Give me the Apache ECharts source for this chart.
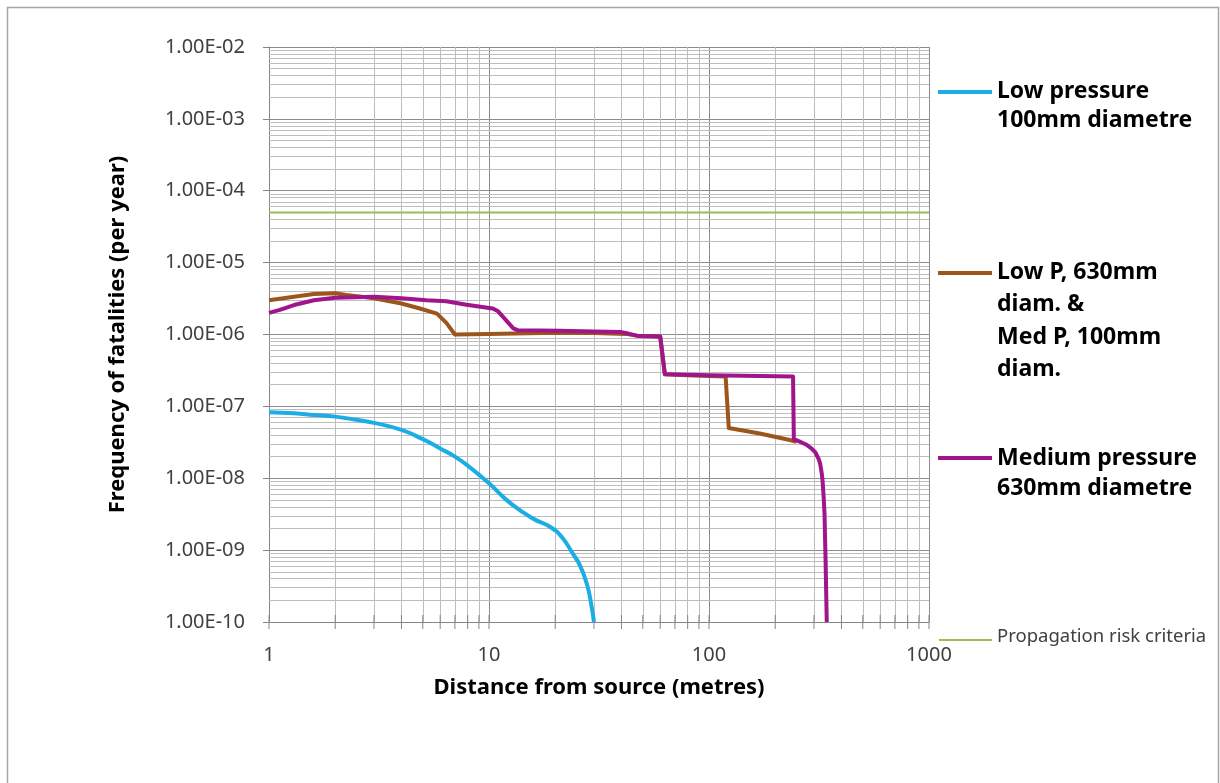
<!DOCTYPE html>
<html><head><meta charset="utf-8">
<script src="https://cdn.jsdelivr.net/npm/echarts@6/dist/echarts.min.js"></script>
<style>html,body{margin:0;padding:0;background:#fff}#c{width:1220px;height:783px}</style>
</head><body><div id="c"></div>
<script>
// ---- tick labels ----
const xTickLabels = ['1', '10', '100', '1000'];
const yTickLabels = ['1.00E-10', '1.00E-09', '1.00E-08', '1.00E-07', '1.00E-06', '1.00E-05', '1.00E-04', '1.00E-03', '1.00E-02'];

// ---- series names ----
const seriesNames = [
  'Low pressure\n100mm diametre',
  'Low P, 630mm\ndiam. &\nMed P, 100mm\ndiam.',
  'Medium pressure\n630mm diametre',
  'Propagation risk criteria'
];

// ---- series values (distance m, frequency per year) ----
const lowPressureX = [1, 1.3, 1.6, 2, 2.5, 3, 4, 5, 6, 7, 8, 10, 12, 14, 16, 19, 21.5, 24, 26, 28, 29.2, 30];
const lowPressureY = [8.3e-8, 8.0e-8, 7.6e-8, 7.2e-8, 6.5e-8, 5.9e-8, 4.7e-8, 3.5e-8, 2.6e-8, 2.0e-8, 1.5e-8, 8.5e-9, 5.0e-9, 3.5e-9, 2.7e-9, 2.1e-9, 1.5e-9, 9.0e-10, 6.0e-10, 3.2e-10, 1.7e-10, 1.0e-10];

const lowPMedPX = [1, 1.3, 1.6, 2, 2.25, 3, 4, 4.85, 5.8, 6.4, 7, 10, 15, 21, 30, 42, 48, 60, 63, 80, 100, 119, 123, 170, 233, 250];
const lowPMedPY = [3.0e-6, 3.35e-6, 3.65e-6, 3.75e-6, 3.55e-6, 3.2e-6, 2.7e-6, 2.3e-6, 1.95e-6, 1.45e-6, 1.0e-6, 1.02e-6, 1.04e-6, 1.06e-6, 1.05e-6, 1.02e-6, 9.5e-7, 9.4e-7, 2.8e-7, 2.7e-7, 2.65e-7, 2.6e-7, 5.0e-8, 4.2e-8, 3.4e-8, 3.2e-8];

const mediumX = [1, 1.12, 1.3, 1.6, 2, 3, 4, 5.2, 6.4, 7.9, 10.4, 11, 12.9, 13.5, 21, 30, 40, 43, 48, 60, 63, 100, 170, 241, 243, 260, 276, 292, 304, 314, 320, 325, 328, 332, 335, 339, 341, 343];
const mediumY = [2.0e-6, 2.2e-6, 2.57e-6, 3.0e-6, 3.25e-6, 3.35e-6, 3.2e-6, 3.0e-6, 2.9e-6, 2.6e-6, 2.3e-6, 2.1e-6, 1.22e-6, 1.15e-6, 1.13e-6, 1.1e-6, 1.08e-6, 1.03e-6, 9.5e-7, 9.4e-7, 2.8e-7, 2.7e-7, 2.65e-7, 2.6e-7, 3.5e-8, 3.2e-8, 2.95e-8, 2.6e-8, 2.3e-8, 1.9e-8, 1.6e-8, 1.2e-8, 9.5e-9, 5.5e-9, 3.2e-9, 6.6e-10, 2.5e-10, 1.0e-10];

const criteriaX = [1, 1000];
const criteriaY = [5e-5, 5e-5];

const colors = ['#1CADE4', '#9C561C', '#A0148C', '#9BBB59'];

const zip = (xs, ys) => xs.map((x, i) => [x, ys[i]]);

// minor grid positions (log decades 2..9)
const xMinor = [];
for (let e = 0; e <= 2; e++) for (let k = 2; k <= 9; k++) xMinor.push(k * Math.pow(10, e));
const yMinor = [];
for (let e = -10; e <= -3; e++) for (let k = 2; k <= 9; k++) yMinor.push(k * Math.pow(10, e));
const xTicksAll = [1, 10, 100, 1000].concat(xMinor);

const FONT = 'Noto Sans';
const chart = echarts.init(document.getElementById('c'), null, {renderer: 'canvas'});

const gridLineData = xMinor.map(v => [{coord: [v, 1e-10]}, {coord: [v, 1e-2]}])
  .concat(yMinor.map(v => [{coord: [1, v]}, {coord: [1000, v]}]));

const option = {
  animation: false,
  backgroundColor: '#ffffff',
  grid: {left: 269, top: 47, width: 660, height: 575, containLabel: false},
  xAxis: {
    type: 'log', logBase: 10, min: 1, max: 1000, splitNumber: 3,
    axisLine: {show: true, lineStyle: {color: '#868686', width: 1}},
    axisTick: {show: false},
    axisLabel: {
      formatter: v => xTickLabels[Math.round(Math.log10(v))],
      fontSize: 20, fontFamily: FONT, color: '#404040', margin: 23
    },
    splitLine: {show: true, lineStyle: {color: '#8c8c8c', width: 1}},
    name: 'Distance from source (metres)', nameLocation: 'middle', nameGap: 55,
    nameTextStyle: {fontSize: 22, fontWeight: 'bold', fontFamily: FONT, color: '#000'}
  },
  yAxis: {
    type: 'log', logBase: 10, min: 1e-10, max: 1e-2, splitNumber: 8,
    axisLine: {show: true, lineStyle: {color: '#868686', width: 1}},
    axisTick: {show: true, length: 6, lineStyle: {color: '#868686'}},
    axisLabel: {
      formatter: v => yTickLabels[Math.round(Math.log10(v)) + 10],
      fontSize: 20, fontFamily: FONT, color: '#404040', margin: 24
    },
    splitLine: {show: true, lineStyle: {color: '#8c8c8c', width: 1}},
    name: 'Frequency of fatalities (per year)', nameLocation: 'middle', nameGap: 140,
    nameTextStyle: {fontSize: 22, fontWeight: 'bold', fontFamily: FONT, color: '#000'}
  },
  legend: {show: false},
  series: [
    {
      name: 'minor grid', type: 'line', z: 1, silent: true,
      data: [[1, 1e-10]], showSymbol: false, lineStyle: {width: 0},
      markLine: {
        z: 1, silent: true, symbol: ['none', 'none'], label: {show: false}, animation: false,
        lineStyle: {color: '#bdbdbd', width: 1, type: 'solid'},
        emphasis: {disabled: true},
        data: gridLineData
      }
    },
    {
      name: 'x ticks', type: 'custom', z: 3, silent: true, clip: false,
      data: xTicksAll.map(v => [v, 1e-10]),
      encode: {x: 0, y: 1},
      renderItem: function (params, api) {
        const p = api.coord([api.value(0), api.value(1)]);
        return {type: 'line', shape: {x1: p[0], y1: p[1] - 7, x2: p[0], y2: p[1] + 7},
          style: {stroke: '#868686', lineWidth: 1}};
      }
    },
    {name: seriesNames[3], type: 'line', z: 10, data: zip(criteriaX, criteriaY), showSymbol: false,
      lineStyle: {color: colors[3], width: 2}, itemStyle: {color: colors[3]}},
    {name: seriesNames[0], type: 'line', z: 10, data: zip(lowPressureX, lowPressureY), showSymbol: false,
      smooth: 0.5,
      lineStyle: {color: colors[0], width: 4}, itemStyle: {color: colors[0]}},
    {name: seriesNames[1], type: 'line', z: 10, data: zip(lowPMedPX, lowPMedPY), showSymbol: false,
      lineStyle: {color: colors[1], width: 4, join: 'round'}, itemStyle: {color: colors[1]}},
    {name: seriesNames[2], type: 'line', z: 11, data: zip(mediumX, mediumY), showSymbol: false,
      lineStyle: {color: colors[2], width: 4, join: 'round'}, itemStyle: {color: colors[2]}}
  ],
  graphic: [
    {type: 'rect', silent: true, z: -1, shape: {x: 7.5, y: 7.5, width: 1211, height: 800},
      style: {fill: 'none', stroke: '#a6a6a6', lineWidth: 1.5}},
    // legend
    {type: 'line', shape: {x1: 938, y1: 92, x2: 992, y2: 92}, style: {stroke: colors[0], lineWidth: 4}},
    {type: 'text', left: 997, top: 77, style: {text: seriesNames[0], font: 'bold 23px "Noto Sans"', fill: '#000', lineHeight: 29}},
    {type: 'line', shape: {x1: 938, y1: 273, x2: 992, y2: 273}, style: {stroke: colors[1], lineWidth: 4}},
    {type: 'text', left: 997, top: 256, style: {text: seriesNames[1], font: 'bold 23px "Noto Sans"', fill: '#000', lineHeight: 32.5}},
    {type: 'line', shape: {x1: 938, y1: 458, x2: 992, y2: 458}, style: {stroke: colors[2], lineWidth: 4}},
    {type: 'text', left: 997, top: 443, style: {text: seriesNames[2], font: 'bold 23px "Noto Sans"', fill: '#000', lineHeight: 30}},
    {type: 'line', shape: {x1: 939, y1: 640, x2: 992, y2: 640}, style: {stroke: colors[3], lineWidth: 2}},
    {type: 'text', left: 997, top: 627, style: {text: seriesNames[3], font: '18.5px "Noto Sans"', fill: '#404040'}}
  ]
};
chart.setOption(option);
</script>
</body></html>
